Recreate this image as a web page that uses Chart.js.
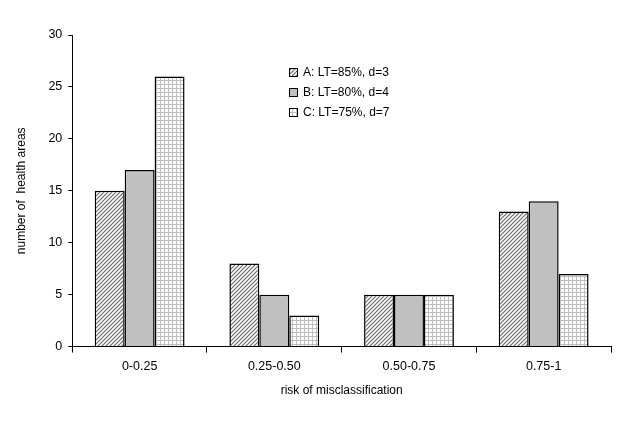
<!DOCTYPE html>
<html>
<head>
<meta charset="utf-8">
<script src="https://cdn.jsdelivr.net/npm/chart.js@4/dist/chart.umd.min.js"></script>
<style>
  body { margin: 0; background: #fff; }
  #wrap { width: 627px; height: 433px; }
</style>
</head>
<body>
<div id="wrap"><canvas id="riskChart"></canvas></div>
<script>
var categories = ['0-0.25', '0.25-0.50', '0.50-0.75', '0.75-1'];
var seriesA = [15, 8, 5, 13];
var seriesB = [17, 5, 5, 14];
var seriesC = [26, 3, 5, 7];
var seriesLabels = ['A: LT=85%, d=3', 'B: LT=80%, d=4', 'C: LT=75%, d=7'];
var yTicks = [0, 5, 10, 15, 20, 25, 30];

// build fill patterns like the old excel hatching
function hatchPattern() {
    var c = document.createElement('canvas');
    c.width = 4; c.height = 4;
    var g = c.getContext('2d');
    g.fillStyle = '#fff';
    g.fillRect(0, 0, 4, 4);
    g.strokeStyle = '#6a6a6a';
    g.lineWidth = 1.2;
    g.beginPath();
    g.moveTo(-1, 5); g.lineTo(5, -1);
    g.moveTo(-1, 1); g.lineTo(1, -1);
    g.moveTo(3, 5); g.lineTo(5, 3);
    g.stroke();
    return c;
}
function gridPattern() {
    var c = document.createElement('canvas');
    c.width = 4; c.height = 4;
    var g = c.getContext('2d');
    g.fillStyle = '#fff';
    g.fillRect(0, 0, 4, 4);
    g.fillStyle = '#bdbdbd';
    g.fillRect(0, 0, 4, 1);
    g.fillRect(0, 0, 1, 4);
    return c;
}

var ctx = document.getElementById('riskChart').getContext('2d');
var fillA = ctx.createPattern(hatchPattern(), 'repeat');
var fillC = ctx.createPattern(gridPattern(), 'repeat');
var fills = [fillA, '#c0c0c0', fillC];

var legendBoxes = {
    id: 'legendBoxes',
    afterDraw: function(chart) {
        var c = chart.ctx;
        c.save();
        c.font = '12px "Liberation Sans", Arial, sans-serif';
        c.textBaseline = 'middle';
        chart.data.datasets.forEach(function(ds, i) {
            var y = 72 + i * 20;
            c.fillStyle = ds.backgroundColor;
            c.fillRect(289, y - 4, 8, 8);
            c.strokeStyle = '#000';
            c.lineWidth = 1;
            c.strokeRect(289.5, y - 3.5, 8, 8);
            c.fillStyle = '#000';
            c.fillText(ds.label, 303, y + 1);
        });
        c.restore();
    }
};

var datasets = [seriesA, seriesB, seriesC].map(function(vals, i) {
    return {
        label: seriesLabels[i],
        data: vals,
        backgroundColor: fills[i],
        borderColor: '#000',
        borderWidth: 1.5,
        borderSkipped: 'bottom',
        categoryPercentage: 0.667,
        barPercentage: 1.0
    };
});

Chart.defaults.font.family = '"Liberation Sans", Arial, sans-serif';
Chart.defaults.color = '#000';

var riskChart = new Chart(ctx, {
    type: 'bar',
    data: { labels: categories, datasets: datasets },
    options: {
        responsive: true,
        maintainAspectRatio: false,
        animation: false,
        layout: { padding: { left: 10, right: 16, top: 35, bottom: 31 } },
        scales: {
            x: {
                offset: true,
                grid: { offset: true, drawOnChartArea: false, drawTicks: true, tickLength: 6, color: '#000' },
                border: { color: '#000', width: 1 },
                ticks: { font: { size: 12.5 }, padding: 6 },
                title: { display: true, text: 'risk of misclassification', font: { size: 12 }, padding: { top: 4 } }
            },
            y: {
                min: 0,
                max: 30,
                afterBuildTicks: function(axis) {
                    axis.ticks = yTicks.map(function(v) { return { value: v }; });
                },
                grid: { drawOnChartArea: false, drawTicks: true, tickLength: 4, color: '#000' },
                border: { color: '#000', width: 1 },
                ticks: { font: { size: 12.5 }, padding: 6 },
                title: { display: true, text: 'number of  health areas', font: { size: 12 }, padding: { bottom: 14 } }
            }
        },
        plugins: {
            legend: { display: false },
            tooltip: { enabled: false }
        }
    },
    plugins: [legendBoxes]
});
</script>
</body>
</html>
